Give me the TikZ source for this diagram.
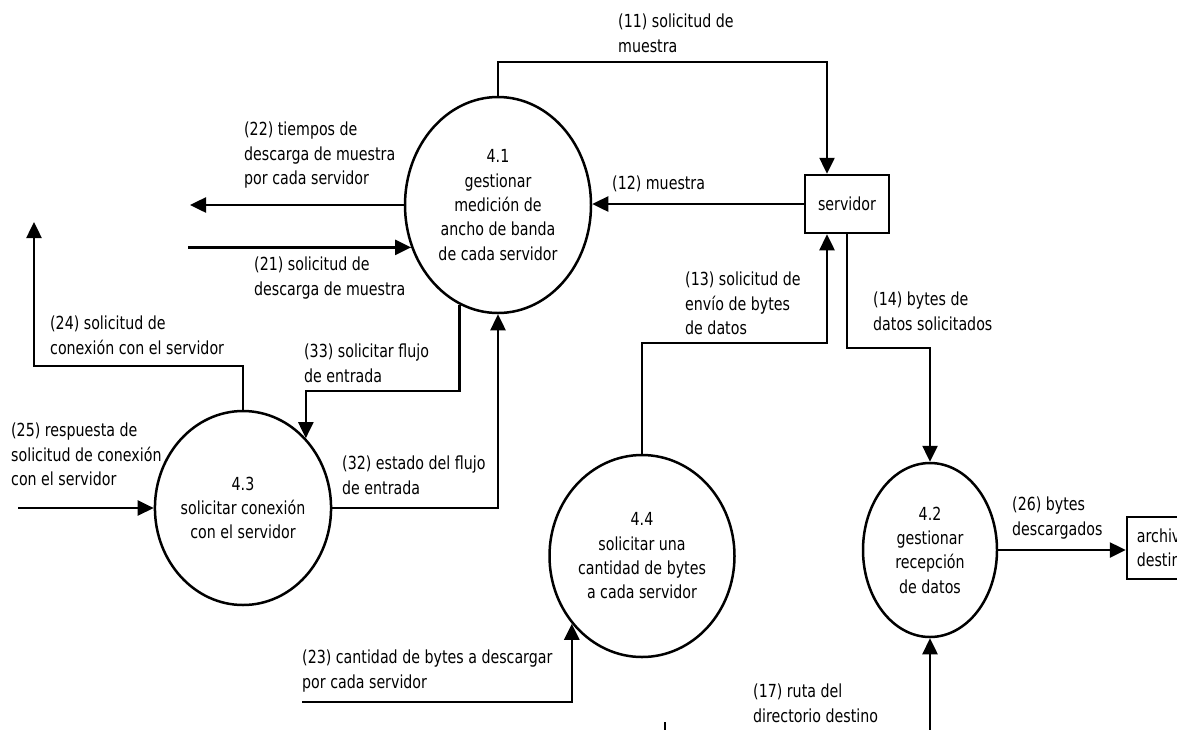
\documentclass[tikz,border=0pt]{standalone}
\usepackage{fontspec}
\setmainfont{DejaVu Sans}[FakeStretch=0.79]
\usetikzlibrary{arrows.meta,shapes.geometric,calc}
\begin{document}
\begin{tikzpicture}[x=1pt,y=-1pt,
  every node/.style={font=\fontsize{18}{24.3}\selectfont},
  lbl/.style={anchor=north west,align=left,inner sep=0pt},
  proc/.style={draw,ellipse,line width=2.5pt,inner sep=0pt,align=center},
  ent/.style={draw,rectangle,line width=2.5pt,inner sep=0pt,align=center},
  flow/.style={line width=2.5pt,-{Triangle[length=16pt,width=15pt]}},
  plain/.style={line width=2.5pt}]
\useasboundingbox (0,0) rectangle (1177,729);
\clip (0,0) rectangle (1177,729);

% processes and entities
\node[proc,minimum width=186pt,minimum height=216pt] (p41) at (498,205)
  {4.1\\gestionar\\medición de\\ancho de banda\\de cada servidor};
\node[proc,minimum width=168pt,minimum height=194pt] (p43) at (243,508)
  {4.3\\solicitar conexión\\con el servidor};
\node[proc,minimum width=185pt,minimum height=202pt] (p44) at (642,556)
  {4.4\\solicitar una\\cantidad de bytes\\a cada servidor};
\node[proc,minimum width=134pt,minimum height=174pt] (p42) at (930,550)
  {4.2\\gestionar\\recepción\\de datos};
\node[ent,minimum width=84pt,minimum height=58pt] (srv) at (847,204) {servidor};
\node[ent,minimum width=72pt,minimum height=62pt] (arch) at (1163,548) {archivo\\destino};

% coordinates
\coordinate (c11) at (0,62);
\coordinate (c13) at (827,343);
\coordinate (c14) at (848,348);
\coordinate (e17) at (930,740);
\coordinate (e22) at (190,0);
\coordinate (e21) at (188,0);
\coordinate (c24) at (34,366);
\coordinate (e24) at (34,222);
\coordinate (e25) at (18,0);
\coordinate (c33) at (0,391);
\coordinate (e23) at (302,702);
\coordinate (m1) at (665,722);
\coordinate (m2) at (665,740);

% connectors
\draw[flow] (p41.north) -- (p41.north |- c11) -| ([xshift=-20pt]srv.north);
\draw[flow] (srv.west) -- (srv.west -| p41.east);
\draw[flow] (p44.north) |- (c13) -- ([xshift=-20pt]srv.south);
\draw[flow] (srv.south) -- (srv.south |- c14) -| (p42.north);
\draw[flow] (p42.east) -- (p42.east -| arch.west);
\draw[flow] (e17) -- (p42.south);
\draw[flow] (p41.west) -- (p41.west -| e22);
\draw[flow] (p41.206.8 -| e21) -- (p41.206.8);
\draw[flow] (p43.north) |- (c24) -- (e24);
\draw[flow] (p43.west -| e25) -- (p43.west);
\draw[flow] (p41.249.5) -- (p41.249.5 |- c33) -| (p43.48.5);
\draw[flow] (p43.east) -| (p41.south);
\draw[flow] (e23) -| (p44.224.3);
\draw[plain] (m1) -- (m2);

% labels
\node[lbl] (l11) at (618,14) {(11) solicitud de\\muestra};
\node[lbl] (l12) at (612,176) {(12) muestra};
\node[lbl] (l13) at (685,272) {(13) solicitud de\\envío de bytes\\de datos};
\node[lbl] (l14) at (873,292) {(14) bytes de\\datos solicitados};
\node[lbl] (l22) at (244,122) {(22) tiempos de\\descarga de muestra\\por cada servidor};
\node[lbl] (l21) at (254,257) {(21) solicitud de\\descarga de muestra};
\node[lbl] (l24) at (50,316) {(24) solicitud de\\conexión con el servidor};
\node[lbl] (l25) at (11,423) {(25) respuesta de\\solicitud de conexión\\con el servidor};
\node[lbl] (l33) at (304,344) {(33) solicitar flujo\\de entrada};
\node[lbl] (l32) at (342,456) {(32) estado del flujo\\de entrada};
\node[lbl] (l23) at (302,650) {(23) cantidad de bytes a descargar\\por cada servidor};
\node[lbl] (l26) at (1012,497) {(26) bytes\\descargados};
\node[lbl] (l17) at (753,684) {(17) ruta del\\directorio destino};
\end{tikzpicture}
\end{document}
